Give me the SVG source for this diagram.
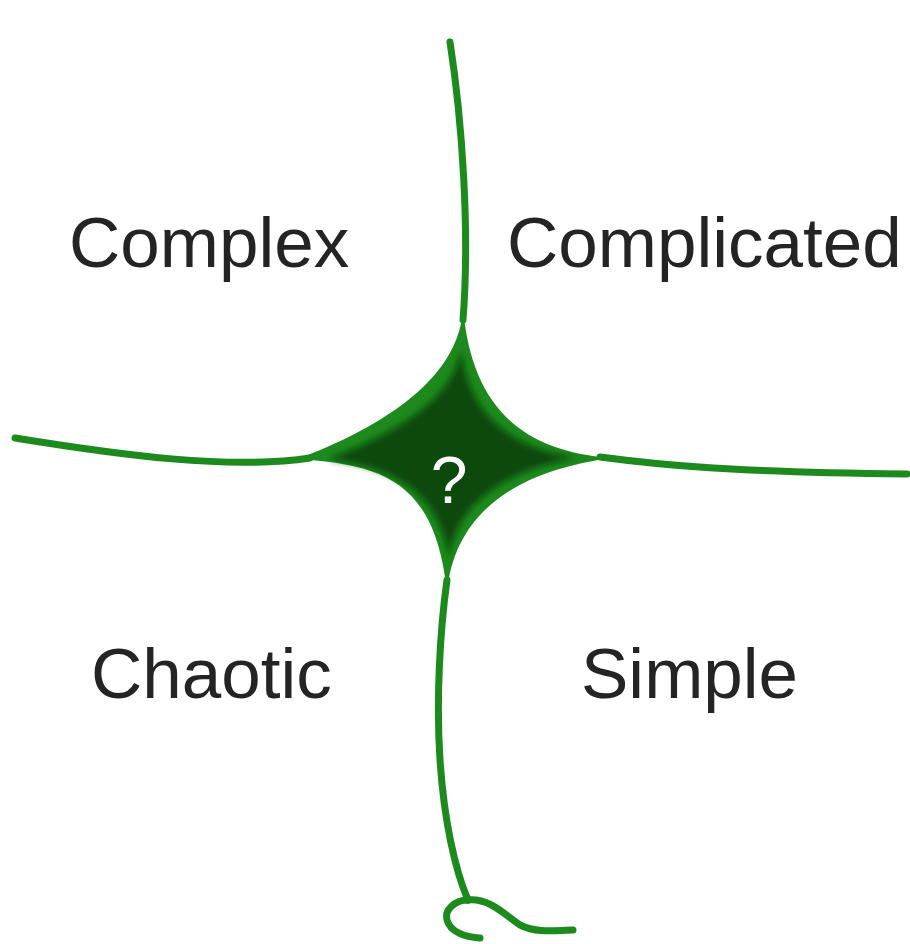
<svg xmlns="http://www.w3.org/2000/svg" width="910" height="944" viewBox="0 0 910 944">
  <style>
    .line { fill: none; stroke: #1d8a1d; stroke-width: 7; stroke-linecap: round; stroke-linejoin: round; }
    .label { font-family: "Liberation Sans", Arial, sans-serif; font-size: 71px; fill: #242424; }
    .q { font-family: "Liberation Sans", Arial, sans-serif; font-size: 66px; fill: #ffffff; text-anchor: middle; }
  </style>
  <defs>
    <filter id="soft" x="-20%" y="-20%" width="140%" height="140%">
      <feGaussianBlur stdDeviation="3"/>
    </filter>
  </defs>
  <rect width="910" height="944" fill="#ffffff"/>
  <g id="connectors">
    <path class="line" d="M450,42 C462,120 470,230 463,320"/>
    <path class="line" d="M15,438 C120,455 230,470 310,458"/>
    <path class="line" d="M600,457 C660,465 730,472 907,474"/>
    <path class="line" d="M447,580 C440,630 436,700 440,760 C444,820 455,870 468,900"/>
    <path class="line" d="M468,900 C455,900 444,910 447,920 C450,932 465,937 480,938"/>
    <path class="line" d="M468,900 C490,898 505,915 520,925 C538,934 558,930 573,930"/>
  </g>
  <g id="center">
    <path d="M463,308 C472,410 525,452 612,458 C520,470 455,510 447,592 C435,478 380,465 298,459 C400,420 460,370 463,308 Z" fill="#1d8a1d"/>
    <path d="M461,348 C468,415 512,449 578,458 C510,468 456,502 449,558 C438,490 392,468 328,459 C400,432 455,397 461,348 Z" fill="#0a480a" filter="url(#soft)"/>
    <text class="q" x="449" y="503">?</text>
  </g>
  <g id="complex"><text class="label" x="69" y="267">Complex</text></g>
  <g id="complicated"><text class="label" x="507" y="267">Complicated</text></g>
  <g id="chaotic"><text class="label" x="91" y="698">Chaotic</text></g>
  <g id="simple"><text class="label" x="581" y="698">Simple</text></g>
</svg>
